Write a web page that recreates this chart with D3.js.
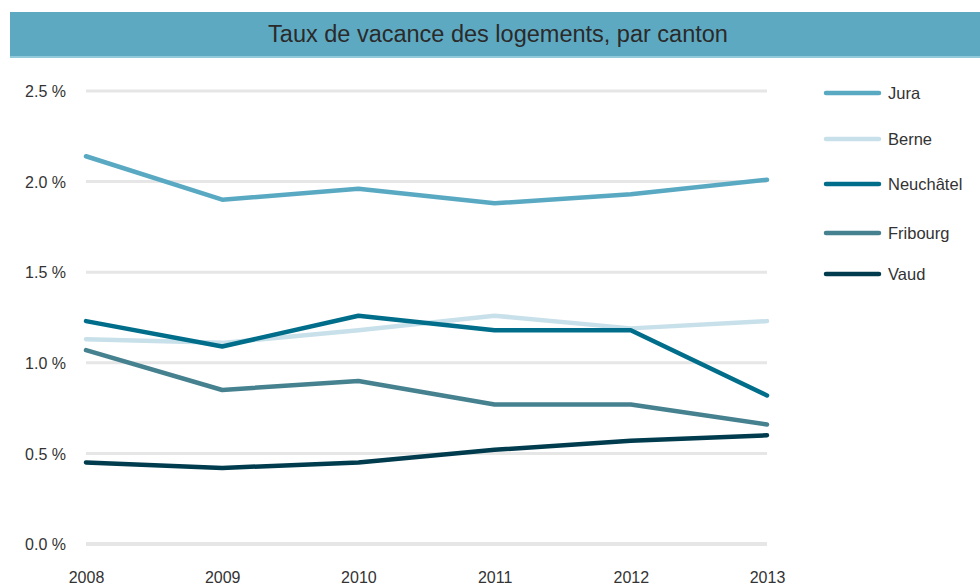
<!DOCTYPE html>
<html lang="fr">
<head>
    <meta charset="UTF-8"/>
    <title>Taux de vacance des logements</title>
    <script src="https://d3js.org/d3.v7.min.js"></script>
    <style>
        body { margin: 0; background: #fff; }
        text { font-family: "Liberation Sans", Arial, sans-serif; fill: #333; }
        .grid line { stroke: #e6e6e6; stroke-width: 3px; }
        .axis path, .axis line { display: none; }
    </style>
</head>
<body>
<div id="chart"></div>
<script>
    // data
    const years = [2008, 2009, 2010, 2011, 2012, 2013];
    const cantons = ["Jura", "Berne", "Neuchâtel", "Fribourg", "Vaud"];
    const jura      = [2.14, 1.90, 1.96, 1.88, 1.93, 2.01];
    const berne     = [1.13, 1.11, 1.18, 1.26, 1.19, 1.23];
    const neuchatel = [1.23, 1.09, 1.26, 1.18, 1.18, 0.82];
    const fribourg  = [1.07, 0.85, 0.90, 0.77, 0.77, 0.66];
    const vaud      = [0.45, 0.42, 0.45, 0.52, 0.57, 0.60];
    const yTicks = [0, 0.5, 1.0, 1.5, 2.0, 2.5];

    const seriesValues = [jura, berne, neuchatel, fribourg, vaud];
    const colors = ["#5aa9c3", "#c8e0ea", "#006e8a", "#46818f", "#003c4e"];
    const legendY = [93, 139, 184, 233, 274];

    const W = 980, H = 585;
    const svg = d3.select("#chart").append("svg")
        .attr("width", W).attr("height", H);

    // title bar
    svg.append("rect").attr("x", 10).attr("y", 12).attr("width", W - 10).attr("height", 45)
        .attr("fill", "#5ea9c2");
    svg.append("rect").attr("x", 10).attr("y", 56).attr("width", W - 10).attr("height", 2)
        .attr("fill", "#92cadb");
    svg.append("text").attr("x", 498).attr("y", 42)
        .attr("text-anchor", "middle")
        .style("font-size", "23.5px").style("fill", "#2a2a2a")
        .text("Taux de vacance des logements, par canton");

    const x = d3.scalePoint().domain(years).range([86, 767]);
    const y = d3.scaleLinear().domain([0, 2.5]).range([544, 91]);

    // grid
    svg.append("g").attr("class", "grid")
        .selectAll("line").data(yTicks).join("line")
        .attr("x1", 86).attr("x2", 767)
        .attr("y1", d => y(d)).attr("y2", d => y(d))
        .style("stroke-width", d => d === 0 ? 4 : 3);

    // y axis
    svg.append("g").attr("class", "axis")
        .attr("transform", "translate(69,0)")
        .call(d3.axisLeft(y).tickValues(yTicks).tickSize(0)
            .tickFormat(d => d3.format(".1f")(d) + " %"))
        .call(g => g.selectAll("text").style("font-size", "16px").attr("dy", "0.35em"));

    // x axis
    svg.append("g").attr("class", "axis")
        .attr("transform", "translate(0,569)")
        .call(d3.axisBottom(x).tickSize(0).tickFormat(d3.format("d")))
        .call(g => g.selectAll("text").style("font-size", "16px"));

    // lines
    const line = d3.line()
        .x((d, i) => x(years[i]))
        .y(d => y(d));

    // draw Berne first so darker lines sit on top
    const order = [1, 0, 3, 2, 4];
    svg.append("g").selectAll("path").data(order).join("path")
        .attr("fill", "none")
        .attr("stroke", i => colors[i])
        .attr("stroke-width", 4.5)
        .attr("stroke-linejoin", "round")
        .attr("stroke-linecap", "round")
        .attr("d", i => line(seriesValues[i]));

    // legend
    const legend = svg.append("g").selectAll("g").data(cantons).join("g")
        .attr("transform", (d, i) => "translate(0," + legendY[i] + ")");
    legend.append("line")
        .attr("x1", 826).attr("x2", 879).attr("y1", 0).attr("y2", 0)
        .attr("stroke", (d, i) => colors[i])
        .attr("stroke-width", 4.5)
        .attr("stroke-linecap", "round");
    legend.append("text")
        .attr("x", 888).attr("y", 0).attr("dy", "0.35em")
        .style("font-size", "16.5px")
        .text(d => d);
</script>
</body>
</html>
